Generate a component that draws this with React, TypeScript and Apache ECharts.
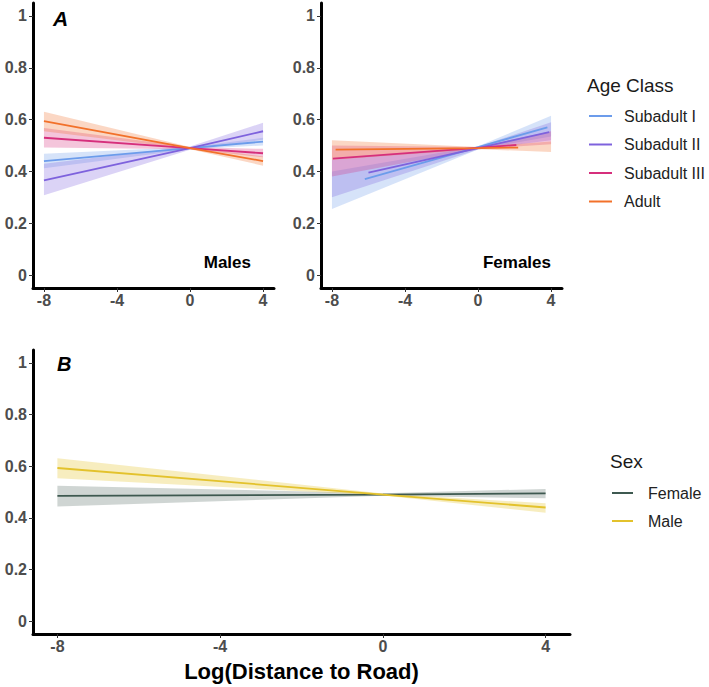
import React, { useEffect, useRef } from "react";
import * as echarts from "echarts";

// Axis ticks shared by all three panels
const X_TICKS = [-8, -4, 0, 4];
const Y_TICKS = [0, 0.2, 0.4, 0.6, 0.8, 1];

const AGE_CLASSES = ["Subadult I", "Subadult II", "Subadult III", "Adult"];
const AGE_COLORS = ["#6C9CEB", "#7E62DD", "#D62F7C", "#F2712A"];
const SEXES = ["Female", "Male"];
const SEX_COLORS = ["#3E5950", "#E3C22C"];

// Males panel: fitted probability lines [x, y]
const maleSubI = [[-8, 0.44], [0, 0.49], [4, 0.515]];
const maleSubII = [[-8, 0.365], [0, 0.49], [4, 0.555]];
const maleSubIII = [[-8, 0.53], [0, 0.49], [4, 0.47]];
const maleAdult = [[-8, 0.594], [0, 0.49], [4, 0.44]];
// Males panel: confidence bands [x, lower, upper]
const maleSubIBand = [[-8, 0.412, 0.468], [0, 0.486, 0.494], [4, 0.5, 0.53]];
const maleSubIIBand = [[-8, 0.308, 0.43], [0, 0.484, 0.496], [4, 0.522, 0.588]];
const maleSubIIIBand = [[-8, 0.492, 0.568], [0, 0.486, 0.494], [4, 0.455, 0.487]];
const maleAdultBand = [[-8, 0.555, 0.63], [0, 0.486, 0.494], [4, 0.422, 0.458]];

// Females panel: fitted probability lines [x, y]
const femaleSubI = [[-6.2, 0.37], [0, 0.494], [3.8, 0.57]];
const femaleSubII = [[-6.0, 0.395], [0, 0.49], [3.9, 0.552]];
const femaleSubIII = [[-7.95, 0.449], [0, 0.491], [2.1, 0.502]];
const femaleAdult = [[-7.8, 0.484], [0, 0.49], [2.2, 0.492]];
// Females panel: confidence bands [x, lower, upper]
const femaleSubIBand = [[-8, 0.255, 0.4], [0, 0.485, 0.497], [4, 0.535, 0.615]];
const femaleSubIIBand = [[-8, 0.3, 0.445], [0, 0.485, 0.495], [4, 0.52, 0.59]];
const femaleSubIIIBand = [[-8, 0.38, 0.5], [0, 0.486, 0.494], [4, 0.505, 0.555]];
const femaleAdultBand = [[-8, 0.445, 0.52], [0, 0.486, 0.494], [4, 0.475, 0.515]];

// Panel B: both sexes
const sexFemale = [[-8, 0.485], [0, 0.49], [4, 0.495]];
const sexMale = [[-8, 0.593], [0, 0.49], [4, 0.44]];
const sexFemaleBand = [[-8, 0.444, 0.524], [0, 0.485, 0.495], [4, 0.476, 0.512]];
const sexMaleBand = [[-8, 0.553, 0.631], [0, 0.486, 0.494], [4, 0.42, 0.456]];

const FONT = "'Liberation Sans', Arial, Helvetica, sans-serif";

function rgba(hex: string, a: number) {
  const n = parseInt(hex.slice(1), 16);
  return `rgba(${(n >> 16) & 255},${(n >> 8) & 255},${n & 255},${a})`;
}

function bandSeries(name: string, band: number[][], color: string, idx: number, alpha: number) {
  return {
    type: "custom",
    name,
    xAxisIndex: idx,
    yAxisIndex: idx,
    silent: true,
    clip: true,
    data: band,
    encode: { x: 0, y: [1, 2] },
    renderItem: (params: any, api: any) => {
      if (params.dataIndex !== 0) return null;
      const upper = band.map((r) => api.coord([r[0], r[2]]));
      const lower = band.map((r) => api.coord([r[0], r[1]])).reverse();
      return {
        type: "polygon",
        shape: { points: upper.concat(lower) },
        style: { fill: rgba(color, alpha) },
      };
    },
  };
}

function lineSeries(name: string, data: number[][], color: string, idx: number) {
  return {
    type: "line",
    name,
    xAxisIndex: idx,
    yAxisIndex: idx,
    data,
    symbol: "none",
    showSymbol: false,
    silent: true,
    itemStyle: { color },
    lineStyle: { color, width: 1.8 },
  };
}

function xAxis(idx: number, extra: any = {}) {
  return {
    type: "value",
    gridIndex: idx,
    min: -8.6,
    max: 4.6,
    splitLine: { show: false },
    axisLine: { show: true, onZero: false, lineStyle: { color: "#000", width: 3 } },
    axisTick: { show: true, customValues: X_TICKS, length: 4, lineStyle: { color: "#333", width: 1 } },
    axisLabel: {
      customValues: X_TICKS,
      margin: 4,
      color: "#4D4D4D",
      fontWeight: "bold",
      fontSize: 16,
      fontFamily: FONT,
    },
    ...extra,
  };
}

function yAxis(idx: number) {
  return {
    type: "value",
    gridIndex: idx,
    min: -0.05,
    max: 1.05,
    splitLine: { show: false },
    axisLine: { show: true, onZero: false, lineStyle: { color: "#000", width: 3 } },
    axisTick: { show: true, customValues: Y_TICKS, length: 4, lineStyle: { color: "#333", width: 1 } },
    axisLabel: {
      customValues: Y_TICKS,
      margin: 6,
      color: "#4D4D4D",
      fontWeight: "bold",
      fontSize: 16,
      fontFamily: FONT,
      formatter: (v: number) => String(Math.round(v * 10) / 10),
    },
  };
}

export default function App() {
  const ref = useRef<HTMLDivElement>(null);

  useEffect(() => {
    if (!ref.current) return;
    const chart = echarts.init(ref.current, undefined, { renderer: "svg" });

    const maleLines = [maleSubI, maleSubII, maleSubIII, maleAdult];
    const maleBands = [maleSubIBand, maleSubIIBand, maleSubIIIBand, maleAdultBand];
    const femaleLines = [femaleSubI, femaleSubII, femaleSubIII, femaleAdult];
    const femaleBands = [femaleSubIBand, femaleSubIIBand, femaleSubIIIBand, femaleAdultBand];

    const series: any[] = [];
    AGE_CLASSES.forEach((c, i) => series.push(bandSeries(c + " band M", maleBands[i], AGE_COLORS[i], 0, 0.28)));
    AGE_CLASSES.forEach((c, i) => series.push(lineSeries(c, maleLines[i], AGE_COLORS[i], 0)));
    AGE_CLASSES.forEach((c, i) => series.push(bandSeries(c + " band F", femaleBands[i], AGE_COLORS[i], 1, 0.28)));
    AGE_CLASSES.forEach((c, i) => series.push(lineSeries(c, femaleLines[i], AGE_COLORS[i], 1)));
    series.push(bandSeries("Female band", sexFemaleBand, SEX_COLORS[0], 2, 0.25));
    series.push(bandSeries("Male band", sexMaleBand, SEX_COLORS[1], 2, 0.3));
    series.push(lineSeries("Female", sexFemale, SEX_COLORS[0], 2));
    series.push(lineSeries("Male", sexMale, SEX_COLORS[1], 2));

    const legendText = { fontSize: 16, lineHeight: 16, color: "#222", fontFamily: FONT };

    chart.setOption({
      animation: false,
      backgroundColor: "#fff",
      grid: [
        { left: 33, top: 3, width: 241, height: 285 },
        { left: 321, top: 3, width: 241, height: 285 },
        { left: 33, top: 350, width: 537, height: 284 },
      ],
      xAxis: [
        xAxis(0),
        xAxis(1),
        xAxis(2, {
          name: "Log(Distance to Road)",
          nameLocation: "middle",
          nameGap: 26,
          nameTextStyle: { fontSize: 22, fontWeight: "bold", color: "#000", fontFamily: FONT },
        }),
      ],
      yAxis: [yAxis(0), yAxis(1), yAxis(2)],
      legend: [
        {
          data: AGE_CLASSES,
          orient: "vertical",
          left: 589,
          top: 108,
          padding: 0,
          itemGap: 12.5,
          itemWidth: 23,
          itemHeight: 2,
          icon: "rect",
          selectedMode: false,
          textStyle: { ...legendText, padding: [0, 0, 0, 7] },
        },
        {
          data: SEXES,
          orient: "vertical",
          left: 612,
          top: 485,
          padding: 0,
          itemGap: 12,
          itemWidth: 21,
          itemHeight: 2,
          icon: "rect",
          selectedMode: false,
          textStyle: { ...legendText, padding: [0, 0, 0, 10] },
        },
      ],
      graphic: [
        {
          type: "text",
          left: 53,
          top: 8,
          style: { text: "A", font: `italic bold 21px ${FONT}`, fill: "#000" },
        },
        {
          type: "text",
          left: 57,
          top: 354,
          style: { text: "B", font: `italic bold 20px ${FONT}`, fill: "#000" },
        },
        {
          type: "text",
          x: 251,
          y: 262,
          style: { text: "Males", font: `bold 17px ${FONT}`, fill: "#000", align: "right", verticalAlign: "middle" },
        },
        {
          type: "text",
          x: 551,
          y: 262,
          style: { text: "Females", font: `bold 17px ${FONT}`, fill: "#000", align: "right", verticalAlign: "middle" },
        },
        {
          type: "text",
          x: 587,
          y: 85,
          style: { text: "Age Class", font: `19px ${FONT}`, fill: "#1a1a1a", verticalAlign: "middle" },
        },
        {
          type: "text",
          x: 610,
          y: 461,
          style: { text: "Sex", font: `19px ${FONT}`, fill: "#1a1a1a", verticalAlign: "middle" },
        },
      ],
      series,
    });

    return () => chart.dispose();
  }, []);

  return (
    <div
      ref={ref}
      style={{ position: "fixed", left: 0, top: 0, width: 709, height: 687, background: "#fff" }}
    />
  );
}
